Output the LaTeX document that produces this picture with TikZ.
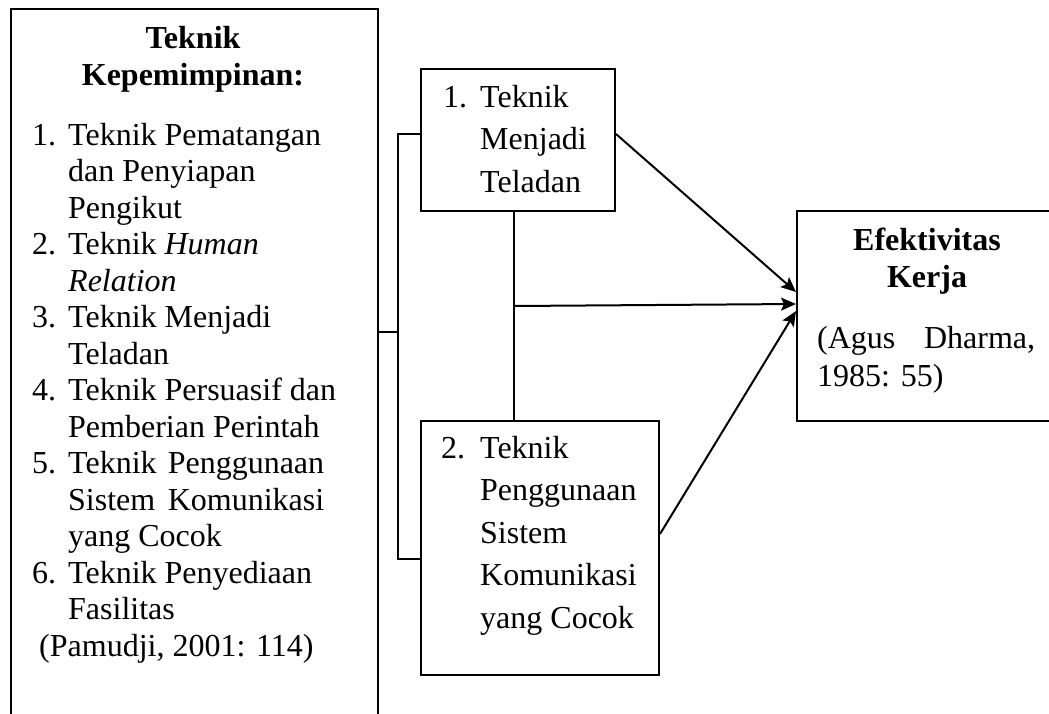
\documentclass[tikz,border=0pt]{standalone}
\usepackage{fontspec}
\setmainfont{Liberation Serif}
\usetikzlibrary{arrows.meta}

\tikzset{
	kotak/.style={draw, line width=2pt, inner sep=0pt, anchor=north west},
	teks/.style={anchor=base west, inner sep=0pt, font=\fontsize{32}{36.5}\selectfont},
	teksrenggang/.style={teks, font=\fontsize{32}{42.5}\selectfont},
	judul/.style={anchor=base, inner sep=0pt, font=\fontsize{32}{37}\selectfont\bfseries},
	garis/.style={line width=2pt},
	panah/.style={line width=2pt, -{Stealth[length=15pt,width=13pt,inset=3pt]}}
}

\begin{document}
\begin{tikzpicture}[x=1pt,y=-1pt]
	\useasboundingbox (0,0) rectangle (1049,713);
	\clip (0,0) rectangle (1049,713);

	\node[kotak, minimum width=367pt, minimum height=760pt] (kiri) at (10,8) {};
	\node[kotak, minimum width=194pt, minimum height=142pt] (tengah1) at (420,68) {};
	\node[kotak, minimum width=238pt, minimum height=254pt] (tengah2) at (420,420) {};
	\node[kotak, minimum width=300pt, minimum height=210pt] (kanan) at (796,210) {};

	\node[judul] (judul1) at (193,48) {\begin{tabular}[t]{@{}c@{}}Teknik\\Kepemimpinan:\end{tabular}};
	\node[teks] (daftar) at (32,145) {\begin{tabular}[t]{@{}p{36pt}@{}l@{}}
		1. & Teknik Pematangan\\
		   & dan Penyiapan\\
		   & Pengikut\\
		2. & Teknik \textit{Human}\\
		   & \textit{Relation}\\
		3. & Teknik Menjadi\\
		   & Teladan\\
		4. & Teknik Persuasif dan\\
		   & Pemberian Perintah\\
		5. & \makebox[256pt][s]{Teknik Penggunaan}\\
		   & \makebox[256pt][s]{Sistem Komunikasi}\\
		   & yang Cocok\\
		6. & Teknik Penyediaan\\
		   & Fasilitas\\
		\multicolumn{2}{@{\hspace{7pt}}l@{}}{(Pamudji, 2001: 114)}
	\end{tabular}};

	\node[teksrenggang] (isi1) at (443,107) {\begin{tabular}[t]{@{}p{37pt}@{}l@{}}
		1. & Teknik\\ & Menjadi\\ & Teladan
	\end{tabular}};
	\node[teksrenggang] (isi2) at (441,458) {\begin{tabular}[t]{@{}p{39pt}@{}l@{}}
		2. & Teknik\\ & Penggunaan\\ & Sistem\\ & Komunikasi\\ & yang Cocok
	\end{tabular}};

	\node[judul] (judul2) at (927,250) {\begin{tabular}[t]{@{}c@{}}Efektivitas\\Kerja\end{tabular}};
	\node[teks, font=\fontsize{32}{38}\selectfont] (sumber) at (817,348) {\begin{tabular}[t]{@{}l@{}}
		\makebox[218pt][s]{(Agus Dharma,}\\1985: 55)
	\end{tabular}};

	\coordinate (cabang) at (398,332);
	\coordinate (atas) at (398,134);
	\coordinate (bawah) at (398,559);
	\coordinate (simpul) at (514,306);

	\draw[garis] (kiri.east |- cabang) -- (cabang);
	\draw[garis] (tengah1.west |- atas) -- (atas) -- (bawah) -- (tengah2.west |- bawah);
	\draw[garis] (tengah1.south -| simpul) -- (tengah2.north -| simpul);
	\draw[panah] (tengah1.east |- atas) -- ([yshift=24pt]kanan.west);
	\draw[panah] (simpul) -- ([yshift=12pt]kanan.west);
	\draw[panah] ([yshift=14pt]tengah2.east) -- ([yshift=5pt]kanan.west);
\end{tikzpicture}
\end{document}
